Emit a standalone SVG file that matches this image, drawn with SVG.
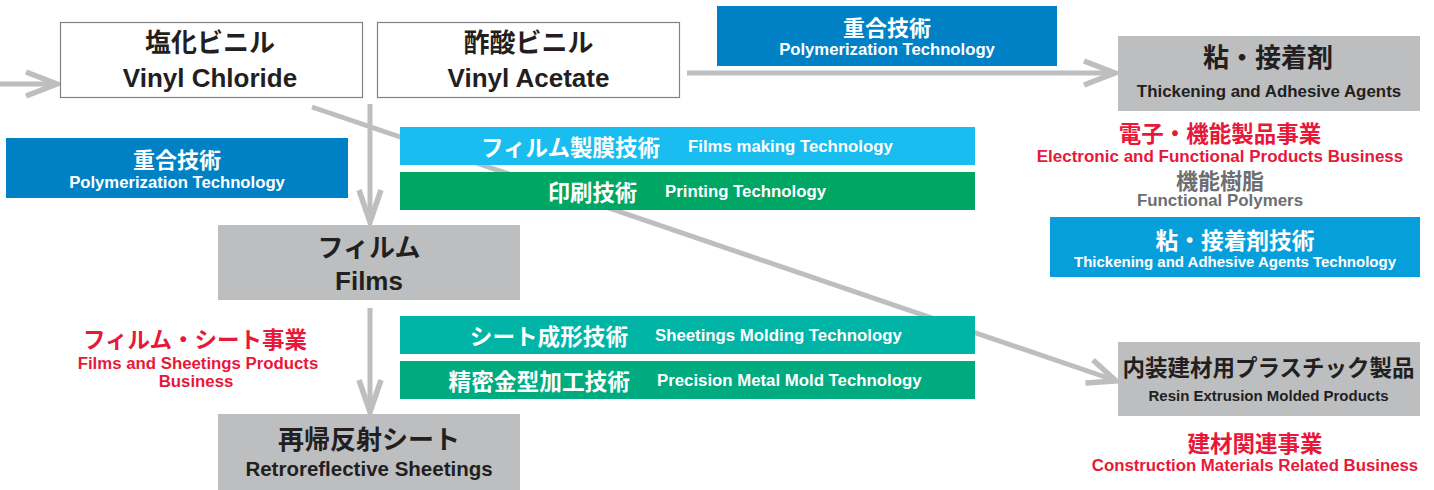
<svg xmlns="http://www.w3.org/2000/svg" width="1434" height="490" viewBox="0 0 1434 490">
<style>
text{font-family:"Liberation Sans","Noto Sans CJK JP",sans-serif;font-weight:bold}
.dk{fill:#231f20}.wh{fill:#ffffff}.rd{fill:#e8183a}.gy{fill:#6d6e71}
.c{text-anchor:middle}.e{text-anchor:end}.s{text-anchor:start}
.ln{stroke:#bcbec0;stroke-width:5;fill:none}
.hd{stroke:#bcbec0;stroke-width:5.5;fill:none;stroke-linejoin:miter}
.gbox{fill:#bcbec0}
.wbox{fill:#ffffff;stroke:#808285;stroke-width:1.2}
</style>
<rect width="1434" height="490" fill="#ffffff"/>
<g id="connectors">
<line class="ln" x1="0" y1="84" x2="56" y2="84"/>
<polyline class="hd" points="26,72 57,84 26,96"/>
<line class="ln" x1="687" y1="73" x2="1113" y2="73"/>
<polyline class="hd" points="1084,61 1115,73 1084,85"/>
<line class="ln" x1="370" y1="104" x2="370" y2="220"/>
<polyline class="hd" points="359,190 370,222 381,190"/>
<line class="ln" x1="370" y1="308" x2="370" y2="410"/>
<polyline class="hd" points="359,380 370,412 381,380"/>
<line class="ln" x1="312" y1="107" x2="1114" y2="380"/>
<polyline class="hd" points="1085.5,383 1116,381 1093,360"/>
</g>
<g id="vinyl-chloride">
<rect class="wbox" x="60.5" y="22.5" width="302" height="75"/>
<text class="dk c" x="210" y="52" font-size="26">塩化ビニル</text>
<text class="dk c" x="210" y="87" font-size="26">Vinyl Chloride</text>
</g>
<g id="vinyl-acetate">
<rect class="wbox" x="377.5" y="22.5" width="302" height="75"/>
<text class="dk c" x="528.5" y="52" font-size="26">酢酸ビニル</text>
<text class="dk c" x="528.5" y="87" font-size="26">Vinyl Acetate</text>
</g>
<g id="polymerization-top">
<rect x="717" y="6" width="340" height="60" fill="#0081c6"/>
<text class="wh c" x="887" y="36" font-size="22">重合技術</text>
<text class="wh c" x="887" y="55" font-size="16.7">Polymerization Technology</text>
</g>
<g id="thickening-agents">
<rect class="gbox" x="1118" y="36" width="302" height="75"/>
<text class="dk c" x="1268" y="67" font-size="26">粘・接着剤</text>
<text class="dk c" x="1269" y="97" font-size="16.9">Thickening and Adhesive Agents</text>
</g>
<g id="electronic-business">
<text class="rd c" x="1220" y="142" font-size="22.5">電子・機能製品事業</text>
<text class="rd c" x="1220" y="162" font-size="17">Electronic and Functional Products Business</text>
</g>
<g id="functional-polymers">
<text class="gy c" x="1220" y="188.5" font-size="22">機能樹脂</text>
<text class="gy c" x="1220" y="206" font-size="16.9">Functional Polymers</text>
</g>
<g id="thickening-technology">
<rect x="1050" y="217" width="370" height="60" fill="#079fdb"/>
<text class="wh c" x="1235" y="249" font-size="22.7">粘・接着剤技術</text>
<text class="wh c" x="1235" y="267" font-size="15">Thickening and Adhesive Agents Technology</text>
</g>
<g id="polymerization-left">
<rect x="6" y="138" width="342" height="60" fill="#0081c6"/>
<text class="wh c" x="177" y="168" font-size="22">重合技術</text>
<text class="wh c" x="177" y="188" font-size="16.7">Polymerization Technology</text>
</g>
<g id="films-making">
<rect x="400" y="127" width="575" height="38" fill="#19bdf0"/>
<text class="wh e" x="660" y="156" font-size="22.5">フィルム製膜技術</text>
<text class="wh s" x="688" y="152" font-size="16.8">Films making Technology</text>
</g>
<g id="printing">
<rect x="400" y="172" width="575" height="38" fill="#00a664"/>
<text class="wh e" x="637" y="201" font-size="22.3">印刷技術</text>
<text class="wh s" x="665" y="197" font-size="16.8">Printing Technology</text>
</g>
<g id="films">
<rect class="gbox" x="218" y="225" width="302" height="75"/>
<text class="dk c" x="369" y="257" font-size="26">フィルム</text>
<text class="dk c" x="369" y="290" font-size="26">Films</text>
</g>
<g id="films-sheetings-business">
<text class="rd c" x="195" y="348" font-size="22.5">フィルム・シート事業</text>
<text class="rd c" x="198" y="369" font-size="16.8">Films and Sheetings Products</text>
<text class="rd c" x="196" y="387" font-size="16.8">Business</text>
</g>
<g id="sheetings-molding">
<rect x="400" y="316" width="575" height="38" fill="#00b4a6"/>
<text class="wh e" x="628" y="345" font-size="22.6">シート成形技術</text>
<text class="wh s" x="655" y="341" font-size="16.8">Sheetings Molding Technology</text>
</g>
<g id="precision-mold">
<rect x="400" y="361" width="575" height="38" fill="#00ab7f"/>
<text class="wh e" x="630" y="390" font-size="22.7">精密金型加工技術</text>
<text class="wh s" x="657" y="386" font-size="16.8">Precision Metal Mold Technology</text>
</g>
<g id="retroreflective">
<rect class="gbox" x="218" y="414" width="302" height="76"/>
<text class="dk c" x="369" y="449" font-size="26">再帰反射シート</text>
<text class="dk c" x="369" y="476" font-size="20.5">Retroreflective Sheetings</text>
</g>
<g id="resin-products">
<rect class="gbox" x="1118" y="342" width="302" height="74"/>
<text class="dk c" x="1268.5" y="376" font-size="22.5">内装建材用プラスチック製品</text>
<text class="dk c" x="1268.5" y="401" font-size="15">Resin Extrusion Molded Products</text>
</g>
<g id="construction-business">
<text class="rd c" x="1255" y="452" font-size="22.5">建材関連事業</text>
<text class="rd c" x="1255" y="471" font-size="16.8">Construction Materials Related Business</text>
</g>
</svg>
